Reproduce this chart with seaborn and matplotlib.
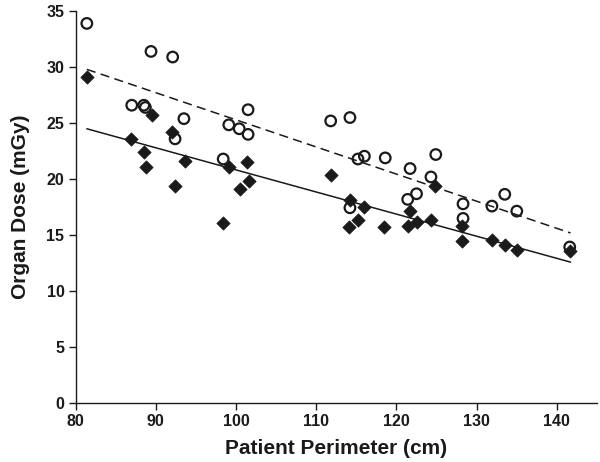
import matplotlib
matplotlib.use('Agg')
import matplotlib.pyplot as plt
import seaborn as sns
import pandas as pd

sns.set_style("ticks")
plt.rcParams['font.family'] = ['Liberation Sans', 'DejaVu Sans']
plt.rcParams['font.weight'] = 'bold'

# ---------- data ----------
open_x = [81.4, 89.4, 92.1, 87.0, 88.5, 88.7, 93.5, 92.4, 99.1, 100.4, 101.5, 101.5, 98.4,
          111.8, 114.2, 115.2, 116.0, 118.6, 114.2,
          121.7, 124.9, 124.3, 121.4, 122.5, 128.3, 128.3, 131.9, 133.5, 135.0, 141.6]
open_y = [33.9, 31.4, 30.9, 26.6, 26.6, 26.4, 25.4, 23.6, 24.85, 24.5, 26.2, 24.0, 21.8,
          25.2, 25.5, 21.8, 22.05, 21.9, 17.45,
          20.95, 22.2, 20.2, 18.2, 18.7, 17.8, 16.5, 17.6, 18.65, 17.15, 13.95]

filled_x = [81.4, 86.9, 89.55, 88.55, 88.8, 92.0, 92.4, 93.6, 99.15, 100.5, 101.4, 101.6, 98.4,
            111.9, 114.2, 116.0, 115.2, 114.1, 118.5,
            124.8, 121.7, 121.4, 122.55, 124.35, 128.2, 128.2, 131.95, 133.5, 135.0, 141.6]
filled_y = [29.1, 23.55, 25.7, 22.45, 21.1, 24.2, 19.4, 21.6, 21.1, 19.1, 21.55, 19.8, 16.1,
            20.4, 18.1, 17.5, 16.35, 15.75, 15.75,
            19.35, 17.2, 15.8, 16.2, 16.4, 15.8, 14.5, 14.55, 14.1, 13.7, 13.6]

# fitted trend lines (end points)
fit_x = [81.4, 141.7]
fit_open_y = [29.8, 15.2]
fit_filled_y = [24.5, 12.6]

df_open = pd.DataFrame({"x": open_x, "y": open_y})
df_filled = pd.DataFrame({"x": filled_x, "y": filled_y})
df_fit = pd.DataFrame({"x": fit_x, "open": fit_open_y, "filled": fit_filled_y})

ink = "#1a1a1a"

fig = plt.figure(figsize=(6, 4.62), dpi=100)
ax = fig.add_axes([0.126, 0.127, 0.869, 0.849])

sns.lineplot(data=df_fit, x="x", y="open", ax=ax, color=ink, lw=1.1,
             linestyle=(0, (6, 3.5)))
sns.lineplot(data=df_fit, x="x", y="filled", ax=ax, color=ink, lw=1.1)
sns.scatterplot(data=df_filled, x="x", y="y", ax=ax, marker="D", s=46,
                color=ink, edgecolor=ink, linewidth=0.5, zorder=3)
sns.scatterplot(data=df_open, x="x", y="y", ax=ax, marker="o", s=58,
                facecolor="none", edgecolor=ink, linewidth=1.6, zorder=4)

ax.set_xlim(80, 145)
ax.set_ylim(0, 35)
ax.set_xticks([80, 90, 100, 110, 120, 130, 140])
ax.set_yticks([0, 5, 10, 15, 20, 25, 30, 35])
sns.despine(ax=ax)
for s in ["left", "bottom"]:
    ax.spines[s].set_color(ink)
    ax.spines[s].set_linewidth(1.0)
ax.tick_params(axis="both", direction="out", length=5, width=1.0, color=ink,
               labelsize=11.5, labelcolor=ink, pad=3)
for lab in ax.get_xticklabels() + ax.get_yticklabels():
    lab.set_fontweight("bold")

ax.set_xlabel("Patient Perimeter (cm)", fontsize=15, fontweight="bold", color=ink, labelpad=7)
ax.set_ylabel("Organ Dose (mGy)", fontsize=15, fontweight="bold", color=ink, labelpad=12)

fig.savefig("out.png", dpi=100)
